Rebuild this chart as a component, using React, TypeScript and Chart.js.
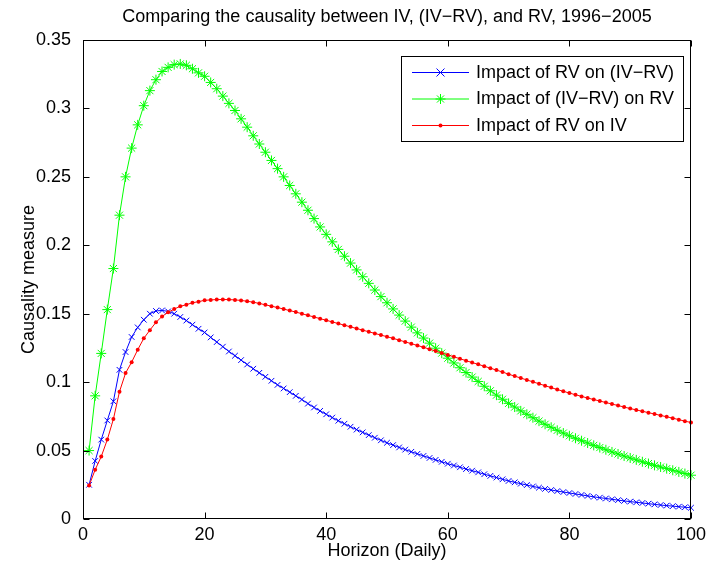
import React, { useEffect, useRef } from 'react';
import { Chart, registerables } from 'chart.js';

Chart.register(...registerables);

const chartTitle = 'Comparing the causality between IV, (IV\u2212RV), and RV, 1996\u22122005';
const xTitle = 'Horizon (Daily)';
const yTitle = 'Causality measure';

const seriesNames = ['Impact of RV on (IV\u2212RV)', 'Impact of (IV\u2212RV) on RV', 'Impact of RV on IV'];

const horizons = [
  1, 2, 3, 4, 5, 6, 7, 8, 9, 10,
  11, 12, 13, 14, 15, 16, 17, 18, 19, 20,
  21, 22, 23, 24, 25, 26, 27, 28, 29, 30,
  31, 32, 33, 34, 35, 36, 37, 38, 39, 40,
  41, 42, 43, 44, 45, 46, 47, 48, 49, 50,
  51, 52, 53, 54, 55, 56, 57, 58, 59, 60,
  61, 62, 63, 64, 65, 66, 67, 68, 69, 70,
  71, 72, 73, 74, 75, 76, 77, 78, 79, 80,
  81, 82, 83, 84, 85, 86, 87, 88, 89, 90,
  91, 92, 93, 94, 95, 96, 97, 98, 99, 100,
];

// Impact of RV on (IV-RV)  (blue, x markers)
const rvOnIvRv = [
  0.0250, 0.0424, 0.0580, 0.0720, 0.0860, 0.1090, 0.1220, 0.1330, 0.1400, 0.1456,
  0.1500, 0.1520, 0.1524, 0.1517, 0.1500, 0.1476, 0.1450, 0.1420, 0.1390, 0.1363,
  0.1327, 0.1293, 0.1259, 0.1224, 0.1193, 0.1161, 0.1129, 0.1098, 0.1068, 0.1039,
  0.1010, 0.0980, 0.0954, 0.0927, 0.0900, 0.0873, 0.0843, 0.0815, 0.0790, 0.0765,
  0.0741, 0.0718, 0.0696, 0.0674, 0.0653, 0.0633, 0.0613, 0.0594, 0.0575, 0.0557,
  0.0540, 0.0523, 0.0507, 0.0491, 0.0476, 0.0461, 0.0446, 0.0432, 0.0418, 0.0404,
  0.0391, 0.0378, 0.0365, 0.0353, 0.0341, 0.0327, 0.0315, 0.0303, 0.0290, 0.0278,
  0.0268, 0.0258, 0.0248, 0.0238, 0.0229, 0.0220, 0.0212, 0.0204, 0.0197, 0.0190,
  0.0183, 0.0176, 0.0169, 0.0162, 0.0156, 0.0150, 0.0144, 0.0138, 0.0132, 0.0127,
  0.0122, 0.0117, 0.0112, 0.0107, 0.0102, 0.0098, 0.0094, 0.0090, 0.0086, 0.0082,
];

// Impact of (IV-RV) on RV  (green, * markers)
const ivRvOnRv = [
  0.0500, 0.0900, 0.1210, 0.1530, 0.1830, 0.2220, 0.2500, 0.2710, 0.2880, 0.3020,
  0.3130, 0.3210, 0.3270, 0.3300, 0.3320, 0.3325, 0.3315, 0.3290, 0.3260, 0.3235,
  0.3190, 0.3144, 0.3090, 0.3037, 0.2985, 0.2924, 0.2863, 0.2800, 0.2740, 0.2680,
  0.2620, 0.2560, 0.2500, 0.2437, 0.2376, 0.2315, 0.2256, 0.2195, 0.2134, 0.2080,
  0.2025, 0.1970, 0.1920, 0.1870, 0.1820, 0.1770, 0.1722, 0.1673, 0.1625, 0.1580,
  0.1535, 0.1490, 0.1446, 0.1402, 0.1360, 0.1322, 0.1285, 0.1248, 0.1212, 0.1175,
  0.1140, 0.1105, 0.1070, 0.1037, 0.1005, 0.0970, 0.0937, 0.0905, 0.0875, 0.0845,
  0.0818, 0.0790, 0.0765, 0.0740, 0.0715, 0.0692, 0.0670, 0.0648, 0.0628, 0.0608,
  0.0590, 0.0572, 0.0555, 0.0538, 0.0522, 0.0506, 0.0490, 0.0475, 0.0460, 0.0446,
  0.0432, 0.0418, 0.0405, 0.0392, 0.0380, 0.0368, 0.0356, 0.0344, 0.0332, 0.0320,
];

// Impact of RV on IV  (red, dot markers)
const rvOnIv = [
  0.0244, 0.0360, 0.0456, 0.0580, 0.0730, 0.0930, 0.1066, 0.1146, 0.1237, 0.1320,
  0.1380, 0.1437, 0.1480, 0.1510, 0.1534, 0.1554, 0.1566, 0.1580, 0.1588, 0.1598,
  0.1601, 0.1603, 0.1604, 0.1603, 0.1601, 0.1597, 0.1591, 0.1584, 0.1575, 0.1565,
  0.1555, 0.1545, 0.1534, 0.1523, 0.1512, 0.1500, 0.1488, 0.1476, 0.1464, 0.1452,
  0.1440, 0.1428, 0.1416, 0.1404, 0.1392, 0.1380, 0.1368, 0.1356, 0.1344, 0.1332,
  0.1320, 0.1307, 0.1294, 0.1281, 0.1268, 0.1255, 0.1241, 0.1227, 0.1213, 0.1199,
  0.1185, 0.1171, 0.1157, 0.1143, 0.1130, 0.1116, 0.1102, 0.1088, 0.1074, 0.1058,
  0.1044, 0.1030, 0.1016, 0.1002, 0.0988, 0.0974, 0.0960, 0.0946, 0.0933, 0.0920,
  0.0908, 0.0896, 0.0884, 0.0873, 0.0862, 0.0851, 0.0840, 0.0829, 0.0818, 0.0807,
  0.0797, 0.0787, 0.0777, 0.0767, 0.0757, 0.0747, 0.0737, 0.0726, 0.0715, 0.0705,
];

const xTickValues = [0, 20, 40, 60, 80, 100];
const xTickLabels = ['0', '20', '40', '60', '80', '100'];
const yTickValues = [0, 0.05, 0.1, 0.15, 0.2, 0.25, 0.3, 0.35];
const yTickLabels = ['0', '0.05', '0.1', '0.15', '0.2', '0.25', '0.3', '0.35'];

const FONT_FAMILY = '"Liberation Sans", Arial, Helvetica, sans-serif';
const FONT_SIZE = 18;

const BLUE = '#0000ff';
const GREEN = '#00ff00';
const RED = '#ff0000';

function drawMarker(ctx: CanvasRenderingContext2D, kind: string, x: number, y: number, color: string) {
  ctx.save();
  ctx.strokeStyle = color;
  ctx.fillStyle = color;
  ctx.lineWidth = 1;
  if (kind === 'crossRot') {
    const r = 4;
    ctx.beginPath();
    ctx.moveTo(x - r, y - r); ctx.lineTo(x + r, y + r);
    ctx.moveTo(x - r, y + r); ctx.lineTo(x + r, y - r);
    ctx.stroke();
  } else if (kind === 'star') {
    const r = 5;
    const d = r * Math.SQRT1_2;
    ctx.beginPath();
    ctx.moveTo(x - r, y); ctx.lineTo(x + r, y);
    ctx.moveTo(x, y - r); ctx.lineTo(x, y + r);
    ctx.moveTo(x - d, y - d); ctx.lineTo(x + d, y + d);
    ctx.moveTo(x - d, y + d); ctx.lineTo(x + d, y - d);
    ctx.stroke();
  } else {
    ctx.beginPath();
    ctx.arc(x, y, 2, 0, Math.PI * 2);
    ctx.fill();
  }
  ctx.restore();
}

const decorPlugin = {
  id: 'matlabDecor',
  afterDraw(chart: any) {
    const { ctx, chartArea: ca, scales } = chart;
    const xs = scales.x;
    const ys = scales.y;
    ctx.save();
    const L = Math.round(ca.left) + 0.5;
    const R = Math.round(ca.right) - 0.5;
    const T = Math.round(ca.top) + 0.5;
    const B = Math.round(ca.bottom) - 0.5;
    ctx.strokeStyle = '#000';
    ctx.lineWidth = 1;
    ctx.strokeRect(L, T, R - L, B - T);
    ctx.beginPath();
    const tl = 6;
    xs.ticks.forEach((t: any) => {
      const px = Math.round(xs.getPixelForValue(t.value)) + 0.5;
      ctx.moveTo(px, B); ctx.lineTo(px, B - tl);
      ctx.moveTo(px, T); ctx.lineTo(px, T + tl);
    });
    ys.ticks.forEach((t: any) => {
      const py = Math.round(ys.getPixelForValue(t.value)) + 0.5;
      ctx.moveTo(L, py); ctx.lineTo(L + tl, py);
      ctx.moveTo(R, py); ctx.lineTo(R - tl, py);
    });
    ctx.stroke();

    ctx.fillStyle = '#000';
    ctx.font = `${FONT_SIZE}px ${FONT_FAMILY}`;
    ctx.textAlign = 'center';
    ctx.textBaseline = 'middle';
    const cx = (ca.left + ca.right) / 2;
    ctx.fillText(chartTitle, cx, 17);
    ctx.fillText(xTitle, cx, 551);
    ctx.save();
    ctx.translate(29, (ca.top + ca.bottom) / 2);
    ctx.rotate(-Math.PI / 2);
    ctx.fillText(yTitle, 0, 0);
    ctx.restore();

    // legend
    const lx0 = 401.5, ly0 = 56.5, lx1 = 683.5, ly1 = 141.5;
    ctx.fillStyle = '#fff';
    ctx.fillRect(lx0, ly0, lx1 - lx0, ly1 - ly0);
    ctx.strokeStyle = '#000';
    ctx.strokeRect(lx0, ly0, lx1 - lx0, ly1 - ly0);
    const rows = [72, 98.5, 125];
    chart.data.datasets.forEach((ds: any, i: number) => {
      const y = rows[i];
      ctx.strokeStyle = ds.borderColor;
      ctx.lineWidth = 1;
      ctx.beginPath();
      ctx.moveTo(412, y + 0.5);
      ctx.lineTo(469, y + 0.5);
      ctx.stroke();
      drawMarker(ctx, ds.pointStyle, 440.5, y + 0.5, ds.borderColor);
      ctx.fillStyle = '#000';
      ctx.textAlign = 'left';
      ctx.textBaseline = 'middle';
      ctx.fillText(ds.label, 476, y + 1);
    });
    ctx.restore();
  },
};

export default function App() {
  const canvasRef = useRef<HTMLCanvasElement | null>(null);

  useEffect(() => {
    const canvas = canvasRef.current;
    if (!canvas) return;
    const toPoints = (arr: number[]) => horizons.map((h, i) => ({ x: h, y: arr[i] }));
    const chart = new Chart(canvas, {
      type: 'line',
      data: {
        datasets: [
          {
            label: seriesNames[0],
            data: toPoints(rvOnIvRv),
            borderColor: BLUE,
            backgroundColor: BLUE,
            borderWidth: 1,
            pointStyle: 'crossRot',
            pointRadius: 4,
            pointBorderWidth: 1,
            pointBorderColor: BLUE,
            pointBackgroundColor: BLUE,
            order: 3,
            clip: false,
          },
          {
            label: seriesNames[1],
            data: toPoints(ivRvOnRv),
            borderColor: GREEN,
            backgroundColor: GREEN,
            borderWidth: 1,
            pointStyle: 'star',
            pointRadius: 5,
            pointBorderWidth: 1,
            pointBorderColor: GREEN,
            pointBackgroundColor: GREEN,
            order: 2,
            clip: false,
          },
          {
            label: seriesNames[2],
            data: toPoints(rvOnIv),
            borderColor: RED,
            backgroundColor: RED,
            borderWidth: 1,
            pointStyle: 'circle',
            pointRadius: 2,
            pointBorderWidth: 0,
            pointBorderColor: RED,
            pointBackgroundColor: RED,
            order: 1,
            clip: false,
          },
        ] as any,
      },
      options: {
        animation: false,
        responsive: false,
        devicePixelRatio: 1,
        layout: { padding: { top: 40, right: 26, bottom: 0, left: 0 } },
        plugins: {
          legend: { display: false },
          title: { display: false },
          tooltip: { enabled: false },
        },
        elements: { line: { tension: 0 } },
        scales: {
          x: {
            type: 'linear',
            min: 0,
            max: 100,
            grid: { display: false, drawTicks: false },
            border: { display: false },
            afterBuildTicks: (s: any) => { s.ticks = xTickValues.map((v) => ({ value: v })); },
            afterFit: (s: any) => { s.height = 54; },
            ticks: {
              color: '#000',
              padding: 5,
              maxRotation: 0,
              autoSkip: false,
              font: { family: FONT_FAMILY, size: FONT_SIZE },
              callback: (_v: any, i: number) => xTickLabels[i],
            },
          },
          y: {
            type: 'linear',
            min: 0,
            max: 0.35,
            grid: { display: false, drawTicks: false },
            border: { display: false },
            afterBuildTicks: (s: any) => { s.ticks = yTickValues.map((v) => ({ value: v })); },
            afterFit: (s: any) => { s.width = 83; },
            ticks: {
              color: '#000',
              padding: 12,
              autoSkip: false,
              font: { family: FONT_FAMILY, size: FONT_SIZE },
              callback: (_v: any, i: number) => yTickLabels[i],
            },
          },
        },
      } as any,
      plugins: [decorPlugin],
    });
    return () => chart.destroy();
  }, []);

  return (
    <div style={{ position: 'absolute', left: 0, top: 0, width: 717, height: 573, background: '#fff' }}>
      <canvas ref={canvasRef} width={717} height={573} style={{ display: 'block', width: 717, height: 573 }} />
    </div>
  );
}
